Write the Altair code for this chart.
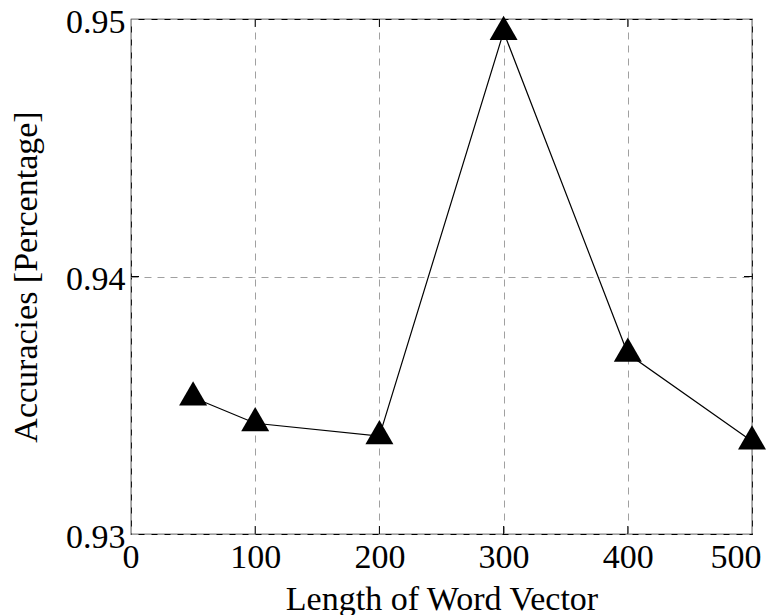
import altair as alt
import pandas as pd

# ---- data ----
vec_len = [50, 100, 200, 300, 400, 500]
accuracy = [0.9353, 0.9343, 0.9338, 0.9495, 0.9370, 0.9336]
x_ticks = [0, 100, 200, 300, 400, 500]
y_ticks = [0.93, 0.94, 0.95]
x_inner = [100, 200, 300, 400]
y_inner = [0.94]

df = pd.DataFrame({"len": vec_len, "acc": accuracy})
dxt = pd.DataFrame({"len": x_inner})
dyt = pd.DataFrame({"acc": y_inner})

W, H = 621, 515
FONT = "Liberation Serif"
FS = 34
TRI = "M0,-1.1547L-1,0.57735L1,0.57735Z"
TL = 8

xs = alt.Scale(domain=[0, 500], nice=False)
ys = alt.Scale(domain=[0.93, 0.95], nice=False, zero=False)

grid_kw = dict(grid=True, gridDash=[7, 6], gridColor="#a0a0a0", gridWidth=1,
               domain=False, ticks=False, labelFont=FONT, labelFontSize=FS,
               labelColor="black", titleFont=FONT, titleFontSize=FS,
               titleFontWeight="normal", titleColor="black",
               labelOverlap=False)

xaxis = alt.Axis(values=x_ticks, format="d", labelPadding=6,
                 labelFlush=True, labelFlushOffset=9,
                 title="Length of Word Vector", titlePadding=8, **grid_kw)
yaxis = alt.Axis(values=y_ticks, format=".2f", labelPadding=6,
                 labelFlush=False, labelOffset=3,
                 title="Accuracies [Percentage]", titlePadding=22, **grid_kw)

X = alt.X("len:Q", scale=xs, axis=xaxis)
Y = alt.Y("acc:Q", scale=ys, axis=yaxis)

base = alt.Chart(df).encode(x=X, y=Y)
line = base.mark_line(color="black", strokeWidth=1.2)
pts = base.mark_point(shape=TRI, size=784, filled=True, color="black", opacity=1)

tick_b = alt.Chart(dxt).mark_rule(color="black", strokeWidth=1).encode(
    x=X, y=alt.value(H), y2=alt.value(H - TL))
tick_t = alt.Chart(dxt).mark_rule(color="black", strokeWidth=1).encode(
    x=X, y=alt.value(0), y2=alt.value(TL))
tick_l = alt.Chart(dyt).mark_rule(color="black", strokeWidth=1).encode(
    y=Y, x=alt.value(0), x2=alt.value(TL))
tick_r = alt.Chart(dyt).mark_rule(color="black", strokeWidth=1).encode(
    y=Y, x=alt.value(W), x2=alt.value(W - TL))

chart = alt.layer(line, pts, tick_b, tick_t, tick_l, tick_r).properties(
    width=W, height=H,
    padding={"left": 123, "top": 11, "right": 17, "bottom": 81},
    autosize="none",
    background="white",
).configure_view(stroke="black", strokeWidth=1.2)

chart.save("out.html", embed_options={"renderer": "svg", "actions": False})
